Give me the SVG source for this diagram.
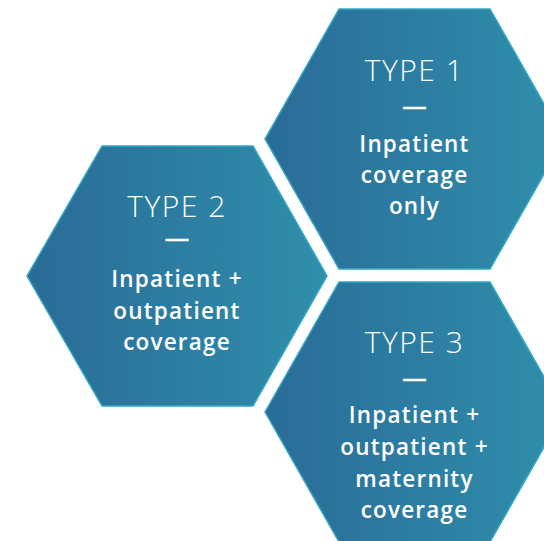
<svg xmlns="http://www.w3.org/2000/svg" width="544" height="541" viewBox="0 0 544 541">
  <defs>
    <linearGradient id="g" x1="0" y1="0" x2="1" y2="0">
      <stop offset="0" stop-color="#2a6b98"/>
      <stop offset="1" stop-color="#2f8fab"/>
    </linearGradient>
    <style>
      .hex{fill:url(#g);stroke:#36a9c2;stroke-width:1.5;stroke-linejoin:miter}
      .title{font-family:"Open Sans","Liberation Sans",sans-serif;font-weight:300;font-size:30px;fill:#ffffff;text-anchor:middle;letter-spacing:1.5px}
      .dash{font-family:"Open Sans","Liberation Sans",sans-serif;font-weight:700;font-size:16px;fill:#ffffff;stroke:#ffffff;stroke-width:0.6px;text-anchor:middle}
      .body{font-family:"Open Sans","Liberation Sans",sans-serif;font-weight:600;font-size:22.5px;fill:#ffffff;text-anchor:middle;letter-spacing:1.2px}
    </style>
  </defs>
  <rect width="544" height="541" fill="#ffffff"/>
  <g id="type1">
    <polygon class="hex" points="339,9 490,9 564,139 490,269 339,269 265,139"/>
    <text class="title" x="414.5" y="81">TYPE 1</text>
    <text class="dash" x="414.5" y="112" textLength="24" lengthAdjust="spacingAndGlyphs">—</text>
    <text class="body" x="414.5" y="152">Inpatient</text>
    <text class="body" x="414.5" y="183">coverage</text>
    <text class="body" x="414.5" y="214">only</text>
  </g>
  <g id="type2">
    <polygon class="hex" points="102,146 253,146 327,276 253,406 102,406 27,276"/>
    <text class="title" x="177" y="217">TYPE 2</text>
    <text class="dash" x="177" y="244" textLength="24" lengthAdjust="spacingAndGlyphs">—</text>
    <text class="body" x="177" y="287">Inpatient +</text>
    <text class="body" x="177" y="319">outpatient</text>
    <text class="body" x="177" y="350">coverage</text>
  </g>
  <g id="type3">
    <polygon class="hex" points="339,282 490,282 564,412 490,542 339,542 265,412"/>
    <text class="title" x="414.5" y="353">TYPE 3</text>
    <text class="dash" x="414.5" y="384" textLength="24" lengthAdjust="spacingAndGlyphs">—</text>
    <text class="body" x="414.5" y="423">Inpatient +</text>
    <text class="body" x="414.5" y="455">outpatient +</text>
    <text class="body" x="414.5" y="487">maternity</text>
    <text class="body" x="414.5" y="518">coverage</text>
  </g>
  <g id="connectors"/>
</svg>
